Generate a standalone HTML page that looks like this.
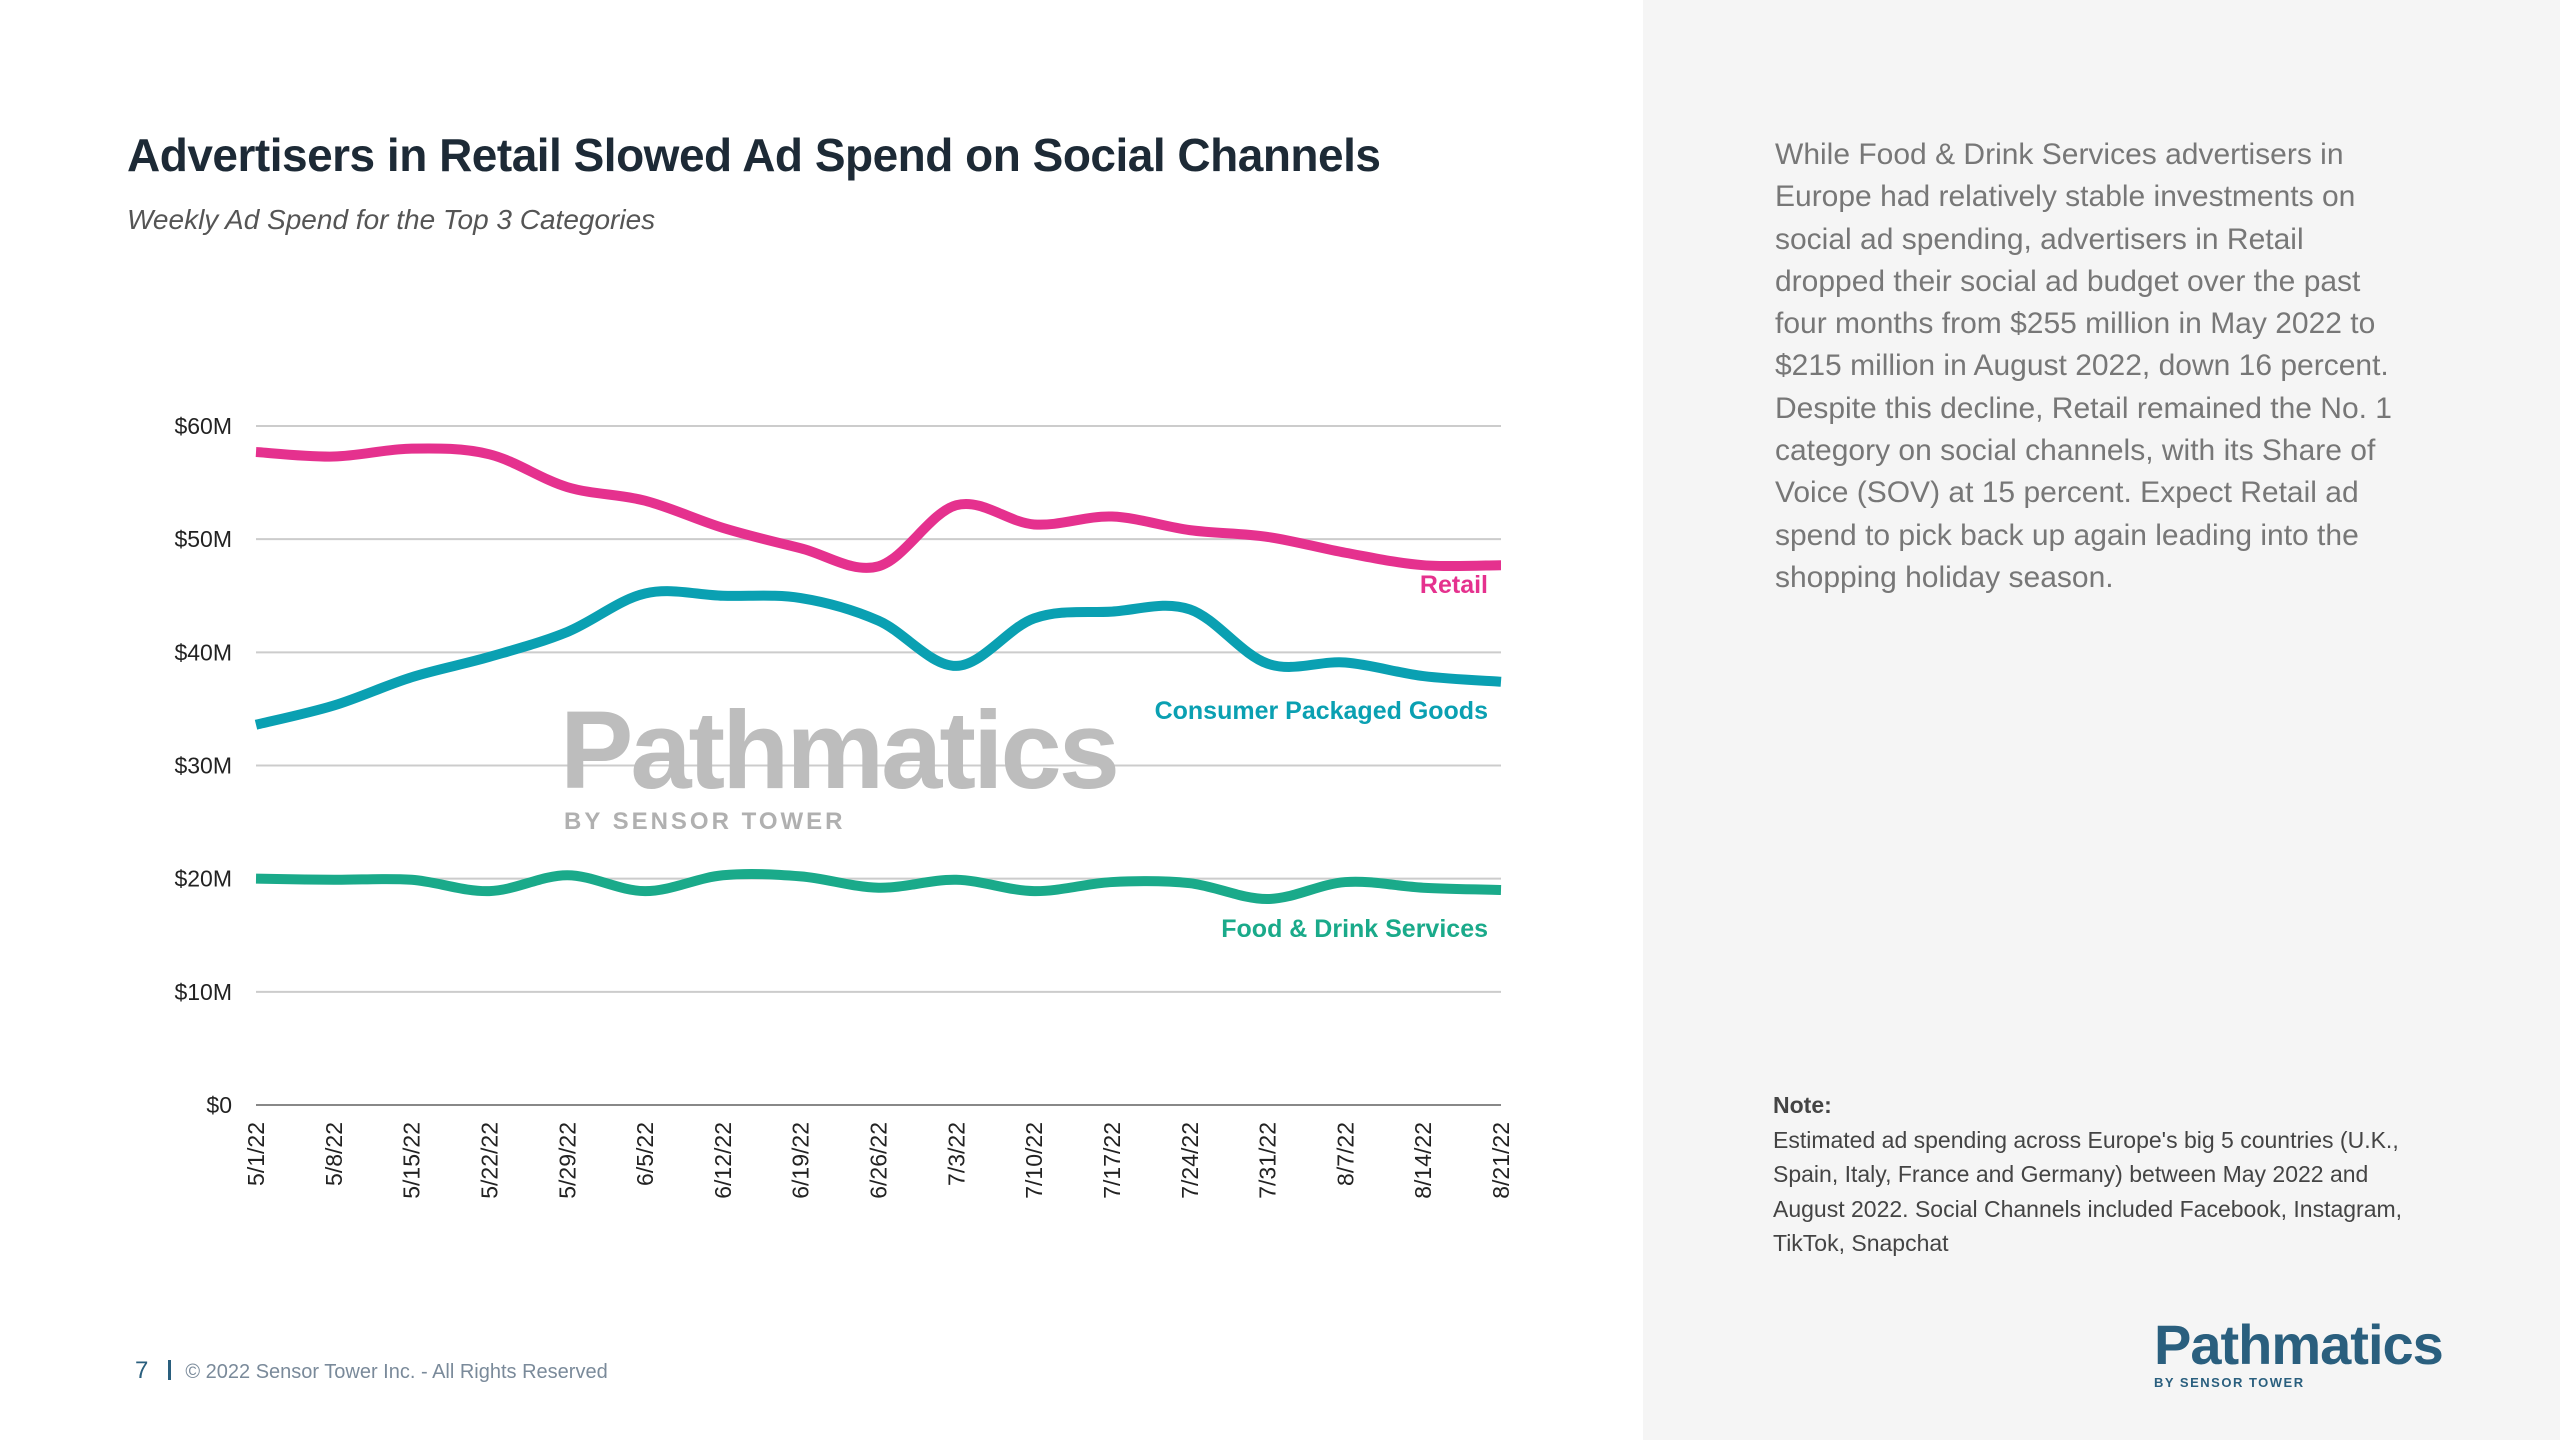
<!DOCTYPE html>
<html><head><meta charset="utf-8"><style>
body{margin:0;width:2560px;height:1440px;overflow:hidden;background:#fff;font-family:"Liberation Sans",sans-serif;position:relative}
.abs{position:absolute;margin:0}
</style></head><body>
<div class="abs" style="left:1643px;top:0;width:917px;height:1440px;background:#f5f5f5"></div>
<h1 class="abs" style="left:127px;top:128px;font-size:46px;font-weight:bold;color:#1d2a36;letter-spacing:-0.5px">Advertisers in Retail Slowed Ad Spend on Social Channels</h1>
<div class="abs" style="left:127px;top:204px;font-size:28px;font-style:italic;color:#555">Weekly Ad Spend for the Top 3 Categories</div>
<div class="abs" style="left:1775px;top:134px;width:630px;font-size:30px;line-height:42.3px;color:#777">While Food &amp; Drink Services advertisers in Europe had relatively stable investments on social ad spending, advertisers in Retail dropped their social ad budget over the past four months from $255 million in May 2022 to $215 million in August 2022, down 16 percent. Despite this decline, Retail remained the No. 1 category on social channels, with its Share of Voice (SOV) at 15 percent. Expect Retail ad spend to pick back up again leading into the shopping holiday season.</div>
<div class="abs" style="left:1773px;top:1088px;width:660px;font-size:23px;line-height:34.5px;color:#444"><b>Note:</b><br>Estimated ad spending across Europe's big 5 countries (U.K., Spain, Italy, France and Germany) between May 2022 and August 2022. Social Channels included Facebook, Instagram, TikTok, Snapchat</div>
<div class="abs" style="left:135px;top:1357px;font-size:20px;color:#7a8a9a"><span style="color:#2a5f7e;font-size:24px">7</span><span style="display:inline-block;width:3px;height:20px;background:#2a5f7e;margin:0 14px 0 20px;vertical-align:-2px"></span>© 2022 Sensor Tower Inc. - All Rights Reserved</div>
<div class="abs" style="left:2154px;top:1315px;color:#2a5f7e;font-weight:bold;font-size:56px;letter-spacing:-1px;line-height:60px">Pathmatics<div style="font-size:13px;letter-spacing:1.5px;line-height:16px">BY SENSOR TOWER</div></div>
<svg class="abs" style="left:0;top:0" width="1643" height="1440">
<g id="grid"></g><g id="wm"></g><g id="lines"></g><g id="labels"></g>
</svg>
<script>
const categories=["5/1/22","5/8/22","5/15/22","5/22/22","5/29/22","6/5/22","6/12/22","6/19/22","6/26/22","7/3/22","7/10/22","7/17/22","7/24/22","7/31/22","8/7/22","8/14/22","8/21/22"];
const retail=[57.7,57.3,58.0,57.5,54.6,53.4,51.0,49.2,47.6,53.0,51.3,52.0,50.8,50.2,48.8,47.7,47.7];
const cpg=[33.6,35.3,37.8,39.6,41.8,45.2,45.0,44.8,42.8,38.8,43.0,43.6,43.8,39.0,39.1,37.9,37.4];
const food=[20.0,19.9,19.9,18.9,20.3,18.9,20.3,20.2,19.2,19.9,18.9,19.7,19.6,18.2,19.7,19.2,19.0];
const yTicks=[0,10,20,30,40,50,60];
const yTickLabels=["$0","$10M","$20M","$30M","$40M","$50M","$60M"];
const NS="http://www.w3.org/2000/svg";
const X0=256,X1=1501,Y0=1105,Y1=426;
const x=i=>X0+(X1-X0)*i/(categories.length-1);
const y=v=>Y0-(Y0-Y1)*v/60;
function mk(t,a,p){const e=document.createElementNS(NS,t);for(const k in a)e.setAttribute(k,a[k]);p.appendChild(e);return e;}
const grid=document.getElementById('grid');
yTicks.forEach((v,i)=>{
 const l=mk('line',{x1:X0,x2:X1,y1:y(v),y2:y(v),stroke:v===0?'#888':'#ccc','stroke-width':2},grid);
 
 
 const t=mk('text',{x:232,y:y(v)+8,'text-anchor':'end','font-size':23,fill:'#222'},grid);
 t.textContent=yTickLabels[i];
 
 
});
categories.forEach((c,i)=>{
 const t=mk('text',{transform:`translate(${x(i)+8},1122) rotate(-90)`,'text-anchor':'end','font-size':23,fill:'#222'},grid);
 t.textContent=c;
 
 
});
const wm=document.getElementById('wm');
const w1=mk('text',{x:560,y:788,'font-size':110,'font-weight':'bold',fill:'#bdbdbd','letter-spacing':-3},wm);
w1.textContent='Pathmatics';


const w2=mk('text',{x:564,y:829,'font-size':24,'font-weight':'bold',fill:'#b0b0b0','letter-spacing':3},wm);
w2.textContent='BY SENSOR TOWER';


function path(vals){
 const p=vals.map((v,i)=>[x(i),y(v)]);
 let d=`M${p[0][0]},${p[0][1]}`;
 for(let i=0;i<p.length-1;i++){
  const p0=p[i-1]||p[i],p1=p[i],p2=p[i+1],p3=p[i+2]||p2;
  const c1=[p1[0]+(p2[0]-p0[0])/6,p1[1]+(p2[1]-p0[1])/6];
  const c2=[p2[0]-(p3[0]-p1[0])/6,p2[1]-(p3[1]-p1[1])/6];
  d+=` C${c1[0]},${c1[1]} ${c2[0]},${c2[1]} ${p2[0]},${p2[1]}`;
 }
 return d;
}
const lines=document.getElementById('lines');
[[retail,'#e5318e','retail-line'],[cpg,'#0aa0b2','cpg-line'],[food,'#1aaa8a','food-line']].forEach(s=>{
 const e=mk('path',{d:path(s[0]),fill:'none',stroke:s[1],'stroke-width':10,'stroke-linejoin':'round'},lines);
 
 
});
const lab=document.getElementById('labels');
[['Retail','#e5318e',593,'retail-label'],['Consumer Packaged Goods','#0aa0b2',719,'cpg-label'],['Food & Drink Services','#1aaa8a',937,'food-label']].forEach(s=>{
 const t=mk('text',{x:1488,y:s[2],'text-anchor':'end','font-size':25,'font-weight':'bold',fill:s[1]},lab);
 t.textContent=s[0];
 
 
});
</script>
</body></html>
